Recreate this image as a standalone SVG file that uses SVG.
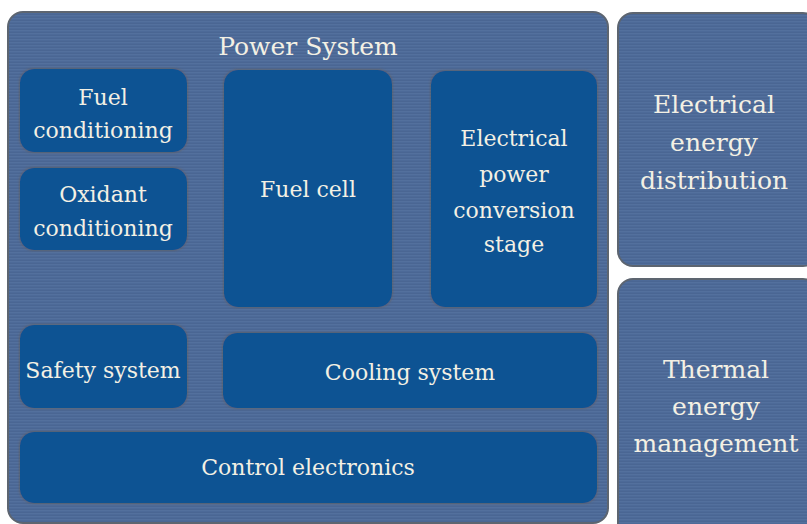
<svg xmlns="http://www.w3.org/2000/svg" width="807" height="524" viewBox="0 0 807 524">
  <defs>
    <pattern id="stripes" width="8" height="3" patternUnits="userSpaceOnUse">
      <rect width="8" height="3" fill="#4d6a98"/>
      <rect y="0" width="8" height="1" fill="#53709d"/>
      <rect y="2" width="8" height="0.6" fill="#48648f"/>
    </pattern>
    <filter id="soft" x="-10%" y="-10%" width="120%" height="120%">
      <feGaussianBlur in="SourceAlpha" stdDeviation="1.6"/>
      <feOffset dx="0" dy="0" result="b"/>
      <feFlood flood-color="#6b5a48" flood-opacity="0.9"/>
      <feComposite in2="b" operator="in" result="s"/>
      <feMerge><feMergeNode in="s"/><feMergeNode in="SourceGraphic"/></feMerge>
    </filter>
  </defs>
  <style>
    .panel { fill: url(#stripes); stroke: #5d6570; stroke-width: 2; }
    .box { fill: #0c5393; filter: url(#soft); }
    .t { font-family: "DejaVu Serif", "Liberation Serif", serif; fill: #f3f0e4; text-anchor: middle; }
    .big { font-size: 25px; }
    .sm { font-size: 22px; }
  </style>
  <rect width="807" height="524" fill="#ffffff"/>

  <g id="power-system">
    <rect class="panel" x="8" y="12" width="600" height="511" rx="15"/>
    <text class="t big" x="308" y="55">Power System</text>
  </g>

  <g id="electrical-energy-distribution">
    <rect class="panel" x="618" y="13" width="200" height="253" rx="15"/>
    <text class="t big" x="714" y="113">Electrical</text>
    <text class="t big" x="714" y="151">energy</text>
    <text class="t big" x="714" y="189">distribution</text>
  </g>

  <g id="thermal-energy-management">
    <rect class="panel" x="618" y="279" width="200" height="260" rx="15"/>
    <text class="t big" x="716" y="378">Thermal</text>
    <text class="t big" x="716" y="415">energy</text>
    <text class="t big" x="716" y="452">management</text>
  </g>

  <g id="fuel-conditioning">
    <rect class="box" x="20" y="69" width="167" height="83" rx="14"/>
    <text class="t sm" x="103" y="105">Fuel</text>
    <text class="t sm" x="103" y="138">conditioning</text>
  </g>

  <g id="oxidant-conditioning">
    <rect class="box" x="20" y="168" width="167" height="82" rx="14"/>
    <text class="t sm" x="103" y="202">Oxidant</text>
    <text class="t sm" x="103" y="236">conditioning</text>
  </g>

  <g id="fuel-cell">
    <rect class="box" x="224" y="70" width="168" height="237" rx="14"/>
    <text class="t sm" x="308" y="197">Fuel cell</text>
  </g>

  <g id="electrical-power-conversion-stage">
    <rect class="box" x="431" y="71" width="166" height="236" rx="14"/>
    <text class="t sm" x="514" y="146">Electrical</text>
    <text class="t sm" x="514" y="182">power</text>
    <text class="t sm" x="514" y="218">conversion</text>
    <text class="t sm" x="514" y="252">stage</text>
  </g>

  <g id="safety-system">
    <rect class="box" x="20" y="325" width="167" height="83" rx="14"/>
    <text class="t sm" x="103" y="378">Safety system</text>
  </g>

  <g id="cooling-system">
    <rect class="box" x="223" y="333" width="374" height="75" rx="14"/>
    <text class="t sm" x="410" y="380">Cooling system</text>
  </g>

  <g id="control-electronics">
    <rect class="box" x="20" y="432" width="577" height="71" rx="14"/>
    <text class="t sm" x="308" y="475">Control electronics</text>
  </g>

  <g id="connectors"/>
</svg>
